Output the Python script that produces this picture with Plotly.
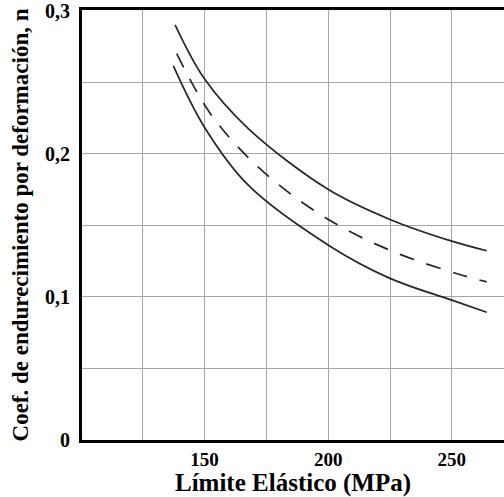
import plotly.graph_objects as go

# Data
upper_x = [138.1, 149.9, 167.7, 200.1, 225.0, 250.0, 264.1]
upper_y = [0.290, 0.2525, 0.2176, 0.1750, 0.1541, 0.1389, 0.1322]

mid_x = [138.75, 151.9, 167.4, 186.1, 206.7, 229.1, 252.5, 264.1]
mid_y = [0.2699, 0.2292, 0.1978, 0.1702, 0.1475, 0.1297, 0.1160, 0.1105]

lower_x = [137.4, 149.9, 167.7, 200.1, 225.0, 250.0, 264.1]
lower_y = [0.2613, 0.2187, 0.1780, 0.1361, 0.1129, 0.0977, 0.0892]

x_tickvals = [125, 150, 175, 200, 225, 250]
x_ticktext = ["", "150", "", "200", "", "250"]
y_tickvals = [0, 0.05, 0.1, 0.15, 0.2, 0.25, 0.3]
y_ticktext = ["0", "", "0,1", "", "0,2", "", "0,3"]

x_title = "Límite Elástico (MPa)"
y_title = "Coef. de endurecimiento por deformación, n"

line_color = "#262626"
serif = "Liberation Serif"

fig = go.Figure()
fig.add_trace(go.Scatter(x=upper_x, y=upper_y, mode="lines",
                         line=dict(color=line_color, width=1.7, shape="spline", smoothing=1.0), showlegend=False))
fig.add_trace(go.Scatter(x=mid_x, y=mid_y, mode="lines",
                         line=dict(color=line_color, width=1.7, shape="spline", smoothing=1.0, dash="15px,13px"), showlegend=False))
fig.add_trace(go.Scatter(x=lower_x, y=lower_y, mode="lines",
                         line=dict(color=line_color, width=1.7, shape="spline", smoothing=1.0), showlegend=False))

fig.update_layout(
    width=504, height=497,
    margin=dict(l=82, r=0, t=10, b=57),
    paper_bgcolor="white", plot_bgcolor="white",
    font=dict(family=serif, color="black"),
    xaxis=dict(
        range=[100.45, 271.1],
        tickvals=x_tickvals, ticktext=x_ticktext,
        tickfont=dict(family=serif, size=19, weight="bold", color="black"),
        showgrid=True, gridcolor="#a6a6a6", gridwidth=1,
        showline=True, linecolor="black", linewidth=3, mirror=True,
        ticks="", zeroline=False,
        title=dict(text=x_title, font=dict(family=serif, size=25, weight="bold", color="black"), standoff=4),
    ),
    yaxis=dict(
        range=[0, 0.3004],
        tickvals=y_tickvals, ticktext=y_ticktext,
        tickfont=dict(family=serif, size=20, weight="bold", color="black"),
        ticklabelstandoff=5,
        ticklabeloverflow="allow",
        showgrid=True, gridcolor="#a6a6a6", gridwidth=1,
        showline=True, linecolor="black", linewidth=3, mirror=False,
        ticks="", zeroline=False,
        title=dict(text=y_title, font=dict(family=serif, size=23, weight="bold", color="black"), standoff=10),
    ),
)

fig.write_html("out.html")
